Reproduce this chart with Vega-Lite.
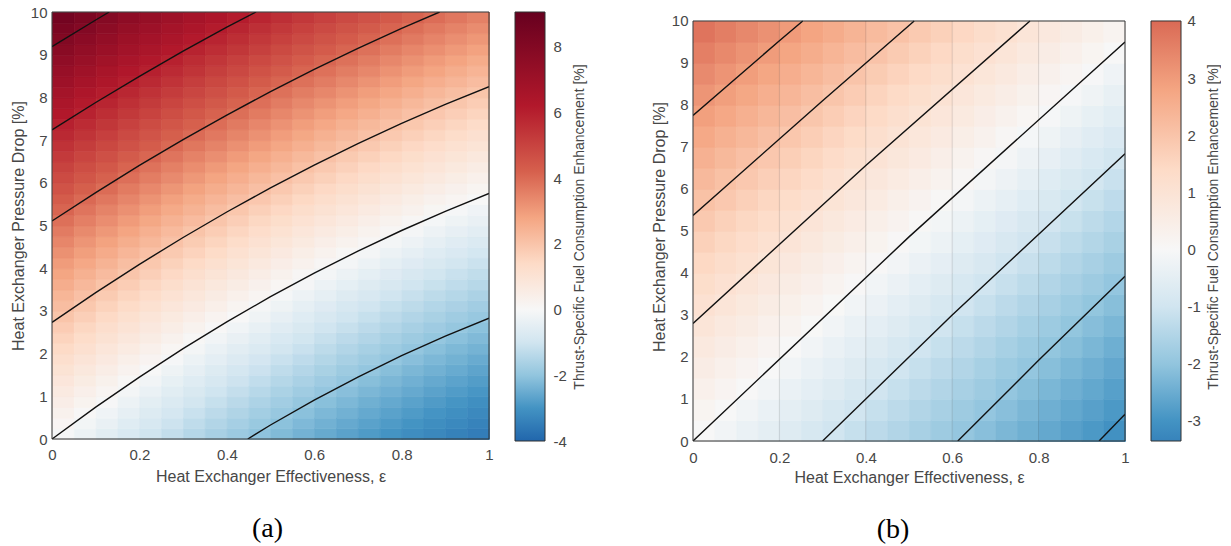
{
"$schema": "https://vega.github.io/schema/vega-lite/v6.json",
"background": "white",
"padding": {"left": 10, "top": 5, "right": 0, "bottom": 0},
"bounds": "flush",
"spacing": 26,
"config": {
 "view": {"stroke": null},
 "font": "Liberation Sans",
 "axis": {"labelFont": "Liberation Sans", "titleFont": "Liberation Sans", "labelFontSize": 15, "titleFontSize": 16, "labelColor": "#474747", "titleColor": "#474747", "titleFontWeight": "normal", "ticks": false, "tickSize": 0, "domain": false, "gridColor": "#262626", "gridOpacity": 0.15, "labelFlush": false, "labelOverlap": false, "zindex": 1, "titleLimit": 800}
},
"resolve": {"scale": {"x": "independent", "y": "independent", "color": "independent", "stroke": "independent"}},
"datasets": {
"a": [
{"e":0,"p":0,"v":-0.05},{"e":0,"p":0.25,"v":0.13},{"e":0,"p":0.5,"v":0.30},{"e":0,"p":0.75,"v":0.48},{"e":0,"p":1,"v":0.65},{"e":0,"p":1.25,"v":0.83},{"e":0,"p":1.5,"v":1.02},{"e":0,"p":1.75,"v":1.20},{"e":0,"p":2,"v":1.39},{"e":0,"p":2.25,"v":1.59},{"e":0,"p":2.5,"v":1.78},{"e":0,"p":2.75,"v":1.98},{"e":0,"p":3,"v":2.17},{"e":0,"p":3.25,"v":2.37},{"e":0,"p":3.5,"v":2.58},{"e":0,"p":3.75,"v":2.78},{"e":0,"p":4,"v":2.99},{"e":0,"p":4.25,"v":3.21},{"e":0,"p":4.5,"v":3.43},{"e":0,"p":4.75,"v":3.65},{"e":0,"p":5,"v":3.87},{"e":0,"p":5.25,"v":4.09},{"e":0,"p":5.5,"v":4.32},{"e":0,"p":5.75,"v":4.55},{"e":0,"p":6,"v":4.77},{"e":0,"p":6.25,"v":5.01},{"e":0,"p":6.5,"v":5.25},{"e":0,"p":6.75,"v":5.49},{"e":0,"p":7,"v":5.73},{"e":0,"p":7.25,"v":5.97},{"e":0,"p":7.5,"v":6.22},{"e":0,"p":7.75,"v":6.48},{"e":0,"p":8,"v":6.72},{"e":0,"p":8.25,"v":6.98},{"e":0,"p":8.5,"v":7.24},{"e":0,"p":8.75,"v":7.50},{"e":0,"p":9,"v":7.77},{"e":0,"p":9.25,"v":8.03},{"e":0,"p":9.5,"v":8.29},{"e":0,"p":9.75,"v":8.57},
{"e":0.05,"p":0,"v":-0.29},{"e":0.05,"p":0.25,"v":-0.13},{"e":0.05,"p":0.5,"v":0.04},{"e":0.05,"p":0.75,"v":0.22},{"e":0.05,"p":1,"v":0.39},{"e":0.05,"p":1.25,"v":0.57},{"e":0.05,"p":1.5,"v":0.75},{"e":0.05,"p":1.75,"v":0.93},{"e":0.05,"p":2,"v":1.13},{"e":0.05,"p":2.25,"v":1.32},{"e":0.05,"p":2.5,"v":1.50},{"e":0.05,"p":2.75,"v":1.70},{"e":0.05,"p":3,"v":1.90},{"e":0.05,"p":3.25,"v":2.10},{"e":0.05,"p":3.5,"v":2.30},{"e":0.05,"p":3.75,"v":2.50},{"e":0.05,"p":4,"v":2.72},{"e":0.05,"p":4.25,"v":2.93},{"e":0.05,"p":4.5,"v":3.13},{"e":0.05,"p":4.75,"v":3.35},{"e":0.05,"p":5,"v":3.57},{"e":0.05,"p":5.25,"v":3.79},{"e":0.05,"p":5.5,"v":4.02},{"e":0.05,"p":5.75,"v":4.24},{"e":0.05,"p":6,"v":4.47},{"e":0.05,"p":6.25,"v":4.71},{"e":0.05,"p":6.5,"v":4.94},{"e":0.05,"p":6.75,"v":5.18},{"e":0.05,"p":7,"v":5.42},{"e":0.05,"p":7.25,"v":5.66},{"e":0.05,"p":7.5,"v":5.91},{"e":0.05,"p":7.75,"v":6.15},{"e":0.05,"p":8,"v":6.40},{"e":0.05,"p":8.25,"v":6.66},{"e":0.05,"p":8.5,"v":6.91},{"e":0.05,"p":8.75,"v":7.17},{"e":0.05,"p":9,"v":7.43},{"e":0.05,"p":9.25,"v":7.69},{"e":0.05,"p":9.5,"v":7.97},{"e":0.05,"p":9.75,"v":8.24},
{"e":0.1,"p":0,"v":-0.54},{"e":0.1,"p":0.25,"v":-0.38},{"e":0.1,"p":0.5,"v":-0.21},{"e":0.1,"p":0.75,"v":-0.03},{"e":0.1,"p":1,"v":0.14},{"e":0.1,"p":1.25,"v":0.32},{"e":0.1,"p":1.5,"v":0.50},{"e":0.1,"p":1.75,"v":0.68},{"e":0.1,"p":2,"v":0.86},{"e":0.1,"p":2.25,"v":1.04},{"e":0.1,"p":2.5,"v":1.23},{"e":0.1,"p":2.75,"v":1.43},{"e":0.1,"p":3,"v":1.62},{"e":0.1,"p":3.25,"v":1.82},{"e":0.1,"p":3.5,"v":2.02},{"e":0.1,"p":3.75,"v":2.22},{"e":0.1,"p":4,"v":2.44},{"e":0.1,"p":4.25,"v":2.64},{"e":0.1,"p":4.5,"v":2.85},{"e":0.1,"p":4.75,"v":3.07},{"e":0.1,"p":5,"v":3.28},{"e":0.1,"p":5.25,"v":3.50},{"e":0.1,"p":5.5,"v":3.73},{"e":0.1,"p":5.75,"v":3.95},{"e":0.1,"p":6,"v":4.18},{"e":0.1,"p":6.25,"v":4.41},{"e":0.1,"p":6.5,"v":4.64},{"e":0.1,"p":6.75,"v":4.88},{"e":0.1,"p":7,"v":5.11},{"e":0.1,"p":7.25,"v":5.35},{"e":0.1,"p":7.5,"v":5.60},{"e":0.1,"p":7.75,"v":5.84},{"e":0.1,"p":8,"v":6.08},{"e":0.1,"p":8.25,"v":6.34},{"e":0.1,"p":8.5,"v":6.59},{"e":0.1,"p":8.75,"v":6.85},{"e":0.1,"p":9,"v":7.11},{"e":0.1,"p":9.25,"v":7.37},{"e":0.1,"p":9.5,"v":7.64},{"e":0.1,"p":9.75,"v":7.90},
{"e":0.15,"p":0,"v":-0.78},{"e":0.15,"p":0.25,"v":-0.62},{"e":0.15,"p":0.5,"v":-0.45},{"e":0.15,"p":0.75,"v":-0.28},{"e":0.15,"p":1,"v":-0.11},{"e":0.15,"p":1.25,"v":0.07},{"e":0.15,"p":1.5,"v":0.24},{"e":0.15,"p":1.75,"v":0.42},{"e":0.15,"p":2,"v":0.61},{"e":0.15,"p":2.25,"v":0.79},{"e":0.15,"p":2.5,"v":0.98},{"e":0.15,"p":2.75,"v":1.17},{"e":0.15,"p":3,"v":1.36},{"e":0.15,"p":3.25,"v":1.56},{"e":0.15,"p":3.5,"v":1.76},{"e":0.15,"p":3.75,"v":1.96},{"e":0.15,"p":4,"v":2.16},{"e":0.15,"p":4.25,"v":2.36},{"e":0.15,"p":4.5,"v":2.57},{"e":0.15,"p":4.75,"v":2.79},{"e":0.15,"p":5,"v":3.00},{"e":0.15,"p":5.25,"v":3.22},{"e":0.15,"p":5.5,"v":3.44},{"e":0.15,"p":5.75,"v":3.66},{"e":0.15,"p":6,"v":3.89},{"e":0.15,"p":6.25,"v":4.11},{"e":0.15,"p":6.5,"v":4.34},{"e":0.15,"p":6.75,"v":4.58},{"e":0.15,"p":7,"v":4.81},{"e":0.15,"p":7.25,"v":5.05},{"e":0.15,"p":7.5,"v":5.29},{"e":0.15,"p":7.75,"v":5.53},{"e":0.15,"p":8,"v":5.79},{"e":0.15,"p":8.25,"v":6.04},{"e":0.15,"p":8.5,"v":6.28},{"e":0.15,"p":8.75,"v":6.54},{"e":0.15,"p":9,"v":6.79},{"e":0.15,"p":9.25,"v":7.05},{"e":0.15,"p":9.5,"v":7.32},{"e":0.15,"p":9.75,"v":7.58},
{"e":0.2,"p":0,"v":-1.01},{"e":0.2,"p":0.25,"v":-0.85},{"e":0.2,"p":0.5,"v":-0.68},{"e":0.2,"p":0.75,"v":-0.52},{"e":0.2,"p":1,"v":-0.35},{"e":0.2,"p":1.25,"v":-0.17},{"e":0.2,"p":1.5,"v":0.00},{"e":0.2,"p":1.75,"v":0.18},{"e":0.2,"p":2,"v":0.36},{"e":0.2,"p":2.25,"v":0.54},{"e":0.2,"p":2.5,"v":0.73},{"e":0.2,"p":2.75,"v":0.91},{"e":0.2,"p":3,"v":1.10},{"e":0.2,"p":3.25,"v":1.30},{"e":0.2,"p":3.5,"v":1.50},{"e":0.2,"p":3.75,"v":1.70},{"e":0.2,"p":4,"v":1.90},{"e":0.2,"p":4.25,"v":2.10},{"e":0.2,"p":4.5,"v":2.31},{"e":0.2,"p":4.75,"v":2.52},{"e":0.2,"p":5,"v":2.73},{"e":0.2,"p":5.25,"v":2.95},{"e":0.2,"p":5.5,"v":3.16},{"e":0.2,"p":5.75,"v":3.38},{"e":0.2,"p":6,"v":3.61},{"e":0.2,"p":6.25,"v":3.83},{"e":0.2,"p":6.5,"v":4.07},{"e":0.2,"p":6.75,"v":4.30},{"e":0.2,"p":7,"v":4.52},{"e":0.2,"p":7.25,"v":4.76},{"e":0.2,"p":7.5,"v":5.00},{"e":0.2,"p":7.75,"v":5.24},{"e":0.2,"p":8,"v":5.49},{"e":0.2,"p":8.25,"v":5.73},{"e":0.2,"p":8.5,"v":5.98},{"e":0.2,"p":8.75,"v":6.24},{"e":0.2,"p":9,"v":6.49},{"e":0.2,"p":9.25,"v":6.75},{"e":0.2,"p":9.5,"v":7.01},{"e":0.2,"p":9.75,"v":7.27},
{"e":0.25,"p":0,"v":-1.23},{"e":0.25,"p":0.25,"v":-1.07},{"e":0.25,"p":0.5,"v":-0.90},{"e":0.25,"p":0.75,"v":-0.74},{"e":0.25,"p":1,"v":-0.58},{"e":0.25,"p":1.25,"v":-0.41},{"e":0.25,"p":1.5,"v":-0.23},{"e":0.25,"p":1.75,"v":-0.05},{"e":0.25,"p":2,"v":0.12},{"e":0.25,"p":2.25,"v":0.30},{"e":0.25,"p":2.5,"v":0.49},{"e":0.25,"p":2.75,"v":0.67},{"e":0.25,"p":3,"v":0.86},{"e":0.25,"p":3.25,"v":1.06},{"e":0.25,"p":3.5,"v":1.24},{"e":0.25,"p":3.75,"v":1.44},{"e":0.25,"p":4,"v":1.64},{"e":0.25,"p":4.25,"v":1.84},{"e":0.25,"p":4.5,"v":2.05},{"e":0.25,"p":4.75,"v":2.25},{"e":0.25,"p":5,"v":2.46},{"e":0.25,"p":5.25,"v":2.68},{"e":0.25,"p":5.5,"v":2.89},{"e":0.25,"p":5.75,"v":3.11},{"e":0.25,"p":6,"v":3.34},{"e":0.25,"p":6.25,"v":3.56},{"e":0.25,"p":6.5,"v":3.79},{"e":0.25,"p":6.75,"v":4.01},{"e":0.25,"p":7,"v":4.24},{"e":0.25,"p":7.25,"v":4.48},{"e":0.25,"p":7.5,"v":4.71},{"e":0.25,"p":7.75,"v":4.95},{"e":0.25,"p":8,"v":5.20},{"e":0.25,"p":8.25,"v":5.44},{"e":0.25,"p":8.5,"v":5.69},{"e":0.25,"p":8.75,"v":5.94},{"e":0.25,"p":9,"v":6.19},{"e":0.25,"p":9.25,"v":6.45},{"e":0.25,"p":9.5,"v":6.70},{"e":0.25,"p":9.75,"v":6.96},
{"e":0.3,"p":0,"v":-1.44},{"e":0.3,"p":0.25,"v":-1.28},{"e":0.3,"p":0.5,"v":-1.12},{"e":0.3,"p":0.75,"v":-0.96},{"e":0.3,"p":1,"v":-0.79},{"e":0.3,"p":1.25,"v":-0.63},{"e":0.3,"p":1.5,"v":-0.46},{"e":0.3,"p":1.75,"v":-0.28},{"e":0.3,"p":2,"v":-0.11},{"e":0.3,"p":2.25,"v":0.07},{"e":0.3,"p":2.5,"v":0.25},{"e":0.3,"p":2.75,"v":0.43},{"e":0.3,"p":3,"v":0.63},{"e":0.3,"p":3.25,"v":0.82},{"e":0.3,"p":3.5,"v":1.00},{"e":0.3,"p":3.75,"v":1.20},{"e":0.3,"p":4,"v":1.40},{"e":0.3,"p":4.25,"v":1.60},{"e":0.3,"p":4.5,"v":1.80},{"e":0.3,"p":4.75,"v":2.00},{"e":0.3,"p":5,"v":2.22},{"e":0.3,"p":5.25,"v":2.43},{"e":0.3,"p":5.5,"v":2.63},{"e":0.3,"p":5.75,"v":2.85},{"e":0.3,"p":6,"v":3.07},{"e":0.3,"p":6.25,"v":3.29},{"e":0.3,"p":6.5,"v":3.52},{"e":0.3,"p":6.75,"v":3.74},{"e":0.3,"p":7,"v":3.97},{"e":0.3,"p":7.25,"v":4.21},{"e":0.3,"p":7.5,"v":4.43},{"e":0.3,"p":7.75,"v":4.67},{"e":0.3,"p":8,"v":4.91},{"e":0.3,"p":8.25,"v":5.15},{"e":0.3,"p":8.5,"v":5.41},{"e":0.3,"p":8.75,"v":5.65},{"e":0.3,"p":9,"v":5.90},{"e":0.3,"p":9.25,"v":6.16},{"e":0.3,"p":9.5,"v":6.41},{"e":0.3,"p":9.75,"v":6.67},
{"e":0.35,"p":0,"v":-1.65},{"e":0.35,"p":0.25,"v":-1.49},{"e":0.35,"p":0.5,"v":-1.33},{"e":0.35,"p":0.75,"v":-1.17},{"e":0.35,"p":1,"v":-1.01},{"e":0.35,"p":1.25,"v":-0.85},{"e":0.35,"p":1.5,"v":-0.68},{"e":0.35,"p":1.75,"v":-0.50},{"e":0.35,"p":2,"v":-0.33},{"e":0.35,"p":2.25,"v":-0.15},{"e":0.35,"p":2.5,"v":0.03},{"e":0.35,"p":2.75,"v":0.21},{"e":0.35,"p":3,"v":0.40},{"e":0.35,"p":3.25,"v":0.58},{"e":0.35,"p":3.5,"v":0.77},{"e":0.35,"p":3.75,"v":0.97},{"e":0.35,"p":4,"v":1.16},{"e":0.35,"p":4.25,"v":1.36},{"e":0.35,"p":4.5,"v":1.56},{"e":0.35,"p":4.75,"v":1.76},{"e":0.35,"p":5,"v":1.97},{"e":0.35,"p":5.25,"v":2.17},{"e":0.35,"p":5.5,"v":2.38},{"e":0.35,"p":5.75,"v":2.60},{"e":0.35,"p":6,"v":2.81},{"e":0.35,"p":6.25,"v":3.03},{"e":0.35,"p":6.5,"v":3.26},{"e":0.35,"p":6.75,"v":3.48},{"e":0.35,"p":7,"v":3.71},{"e":0.35,"p":7.25,"v":3.94},{"e":0.35,"p":7.5,"v":4.16},{"e":0.35,"p":7.75,"v":4.40},{"e":0.35,"p":8,"v":4.64},{"e":0.35,"p":8.25,"v":4.88},{"e":0.35,"p":8.5,"v":5.13},{"e":0.35,"p":8.75,"v":5.37},{"e":0.35,"p":9,"v":5.61},{"e":0.35,"p":9.25,"v":5.87},{"e":0.35,"p":9.5,"v":6.12},{"e":0.35,"p":9.75,"v":6.38},
{"e":0.4,"p":0,"v":-1.84},{"e":0.4,"p":0.25,"v":-1.68},{"e":0.4,"p":0.5,"v":-1.53},{"e":0.4,"p":0.75,"v":-1.37},{"e":0.4,"p":1,"v":-1.21},{"e":0.4,"p":1.25,"v":-1.05},{"e":0.4,"p":1.5,"v":-0.89},{"e":0.4,"p":1.75,"v":-0.72},{"e":0.4,"p":2,"v":-0.55},{"e":0.4,"p":2.25,"v":-0.37},{"e":0.4,"p":2.5,"v":-0.19},{"e":0.4,"p":2.75,"v":-0.01},{"e":0.4,"p":3,"v":0.17},{"e":0.4,"p":3.25,"v":0.35},{"e":0.4,"p":3.5,"v":0.55},{"e":0.4,"p":3.75,"v":0.74},{"e":0.4,"p":4,"v":0.92},{"e":0.4,"p":4.25,"v":1.12},{"e":0.4,"p":4.5,"v":1.32},{"e":0.4,"p":4.75,"v":1.52},{"e":0.4,"p":5,"v":1.73},{"e":0.4,"p":5.25,"v":1.93},{"e":0.4,"p":5.5,"v":2.14},{"e":0.4,"p":5.75,"v":2.36},{"e":0.4,"p":6,"v":2.56},{"e":0.4,"p":6.25,"v":2.78},{"e":0.4,"p":6.5,"v":3.00},{"e":0.4,"p":6.75,"v":3.22},{"e":0.4,"p":7,"v":3.45},{"e":0.4,"p":7.25,"v":3.67},{"e":0.4,"p":7.5,"v":3.90},{"e":0.4,"p":7.75,"v":4.14},{"e":0.4,"p":8,"v":4.37},{"e":0.4,"p":8.25,"v":4.61},{"e":0.4,"p":8.5,"v":4.86},{"e":0.4,"p":8.75,"v":5.10},{"e":0.4,"p":9,"v":5.35},{"e":0.4,"p":9.25,"v":5.60},{"e":0.4,"p":9.5,"v":5.84},{"e":0.4,"p":9.75,"v":6.10},
{"e":0.45,"p":0,"v":-2.04},{"e":0.45,"p":0.25,"v":-1.89},{"e":0.45,"p":0.5,"v":-1.73},{"e":0.45,"p":0.75,"v":-1.57},{"e":0.45,"p":1,"v":-1.41},{"e":0.45,"p":1.25,"v":-1.25},{"e":0.45,"p":1.5,"v":-1.08},{"e":0.45,"p":1.75,"v":-0.92},{"e":0.45,"p":2,"v":-0.75},{"e":0.45,"p":2.25,"v":-0.57},{"e":0.45,"p":2.5,"v":-0.40},{"e":0.45,"p":2.75,"v":-0.22},{"e":0.45,"p":3,"v":-0.04},{"e":0.45,"p":3.25,"v":0.14},{"e":0.45,"p":3.5,"v":0.33},{"e":0.45,"p":3.75,"v":0.51},{"e":0.45,"p":4,"v":0.70},{"e":0.45,"p":4.25,"v":0.90},{"e":0.45,"p":4.5,"v":1.09},{"e":0.45,"p":4.75,"v":1.29},{"e":0.45,"p":5,"v":1.49},{"e":0.45,"p":5.25,"v":1.69},{"e":0.45,"p":5.5,"v":1.91},{"e":0.45,"p":5.75,"v":2.12},{"e":0.45,"p":6,"v":2.32},{"e":0.45,"p":6.25,"v":2.54},{"e":0.45,"p":6.5,"v":2.76},{"e":0.45,"p":6.75,"v":2.98},{"e":0.45,"p":7,"v":3.20},{"e":0.45,"p":7.25,"v":3.42},{"e":0.45,"p":7.5,"v":3.66},{"e":0.45,"p":7.75,"v":3.89},{"e":0.45,"p":8,"v":4.11},{"e":0.45,"p":8.25,"v":4.35},{"e":0.45,"p":8.5,"v":4.59},{"e":0.45,"p":8.75,"v":4.83},{"e":0.45,"p":9,"v":5.08},{"e":0.45,"p":9.25,"v":5.32},{"e":0.45,"p":9.5,"v":5.57},{"e":0.45,"p":9.75,"v":5.83},
{"e":0.5,"p":0,"v":-2.21},{"e":0.5,"p":0.25,"v":-2.07},{"e":0.5,"p":0.5,"v":-1.91},{"e":0.5,"p":0.75,"v":-1.75},{"e":0.5,"p":1,"v":-1.60},{"e":0.5,"p":1.25,"v":-1.44},{"e":0.5,"p":1.5,"v":-1.28},{"e":0.5,"p":1.75,"v":-1.12},{"e":0.5,"p":2,"v":-0.95},{"e":0.5,"p":2.25,"v":-0.78},{"e":0.5,"p":2.5,"v":-0.61},{"e":0.5,"p":2.75,"v":-0.43},{"e":0.5,"p":3,"v":-0.25},{"e":0.5,"p":3.25,"v":-0.07},{"e":0.5,"p":3.5,"v":0.12},{"e":0.5,"p":3.75,"v":0.30},{"e":0.5,"p":4,"v":0.48},{"e":0.5,"p":4.25,"v":0.68},{"e":0.5,"p":4.5,"v":0.87},{"e":0.5,"p":4.75,"v":1.07},{"e":0.5,"p":5,"v":1.27},{"e":0.5,"p":5.25,"v":1.47},{"e":0.5,"p":5.5,"v":1.68},{"e":0.5,"p":5.75,"v":1.88},{"e":0.5,"p":6,"v":2.09},{"e":0.5,"p":6.25,"v":2.31},{"e":0.5,"p":6.5,"v":2.52},{"e":0.5,"p":6.75,"v":2.74},{"e":0.5,"p":7,"v":2.96},{"e":0.5,"p":7.25,"v":3.18},{"e":0.5,"p":7.5,"v":3.41},{"e":0.5,"p":7.75,"v":3.63},{"e":0.5,"p":8,"v":3.86},{"e":0.5,"p":8.25,"v":4.10},{"e":0.5,"p":8.5,"v":4.34},{"e":0.5,"p":8.75,"v":4.58},{"e":0.5,"p":9,"v":4.82},{"e":0.5,"p":9.25,"v":5.06},{"e":0.5,"p":9.5,"v":5.32},{"e":0.5,"p":9.75,"v":5.57},
{"e":0.55,"p":0,"v":-2.38},{"e":0.55,"p":0.25,"v":-2.24},{"e":0.55,"p":0.5,"v":-2.09},{"e":0.55,"p":0.75,"v":-1.93},{"e":0.55,"p":1,"v":-1.78},{"e":0.55,"p":1.25,"v":-1.62},{"e":0.55,"p":1.5,"v":-1.46},{"e":0.55,"p":1.75,"v":-1.30},{"e":0.55,"p":2,"v":-1.13},{"e":0.55,"p":2.25,"v":-0.97},{"e":0.55,"p":2.5,"v":-0.80},{"e":0.55,"p":2.75,"v":-0.62},{"e":0.55,"p":3,"v":-0.45},{"e":0.55,"p":3.25,"v":-0.27},{"e":0.55,"p":3.5,"v":-0.09},{"e":0.55,"p":3.75,"v":0.09},{"e":0.55,"p":4,"v":0.28},{"e":0.55,"p":4.25,"v":0.47},{"e":0.55,"p":4.5,"v":0.66},{"e":0.55,"p":4.75,"v":0.86},{"e":0.55,"p":5,"v":1.05},{"e":0.55,"p":5.25,"v":1.25},{"e":0.55,"p":5.5,"v":1.46},{"e":0.55,"p":5.75,"v":1.66},{"e":0.55,"p":6,"v":1.87},{"e":0.55,"p":6.25,"v":2.08},{"e":0.55,"p":6.5,"v":2.29},{"e":0.55,"p":6.75,"v":2.51},{"e":0.55,"p":7,"v":2.73},{"e":0.55,"p":7.25,"v":2.95},{"e":0.55,"p":7.5,"v":3.17},{"e":0.55,"p":7.75,"v":3.39},{"e":0.55,"p":8,"v":3.62},{"e":0.55,"p":8.25,"v":3.86},{"e":0.55,"p":8.5,"v":4.09},{"e":0.55,"p":8.75,"v":4.33},{"e":0.55,"p":9,"v":4.57},{"e":0.55,"p":9.25,"v":4.81},{"e":0.55,"p":9.5,"v":5.06},{"e":0.55,"p":9.75,"v":5.30},
{"e":0.6,"p":0,"v":-2.55},{"e":0.6,"p":0.25,"v":-2.41},{"e":0.6,"p":0.5,"v":-2.26},{"e":0.6,"p":0.75,"v":-2.11},{"e":0.6,"p":1,"v":-1.96},{"e":0.6,"p":1.25,"v":-1.80},{"e":0.6,"p":1.5,"v":-1.64},{"e":0.6,"p":1.75,"v":-1.48},{"e":0.6,"p":2,"v":-1.32},{"e":0.6,"p":2.25,"v":-1.16},{"e":0.6,"p":2.5,"v":-0.99},{"e":0.6,"p":2.75,"v":-0.81},{"e":0.6,"p":3,"v":-0.64},{"e":0.6,"p":3.25,"v":-0.46},{"e":0.6,"p":3.5,"v":-0.28},{"e":0.6,"p":3.75,"v":-0.10},{"e":0.6,"p":4,"v":0.08},{"e":0.6,"p":4.25,"v":0.26},{"e":0.6,"p":4.5,"v":0.45},{"e":0.6,"p":4.75,"v":0.65},{"e":0.6,"p":5,"v":0.84},{"e":0.6,"p":5.25,"v":1.04},{"e":0.6,"p":5.5,"v":1.24},{"e":0.6,"p":5.75,"v":1.44},{"e":0.6,"p":6,"v":1.66},{"e":0.6,"p":6.25,"v":1.86},{"e":0.6,"p":6.5,"v":2.07},{"e":0.6,"p":6.75,"v":2.29},{"e":0.6,"p":7,"v":2.50},{"e":0.6,"p":7.25,"v":2.72},{"e":0.6,"p":7.5,"v":2.94},{"e":0.6,"p":7.75,"v":3.16},{"e":0.6,"p":8,"v":3.40},{"e":0.6,"p":8.25,"v":3.63},{"e":0.6,"p":8.5,"v":3.85},{"e":0.6,"p":8.75,"v":4.09},{"e":0.6,"p":9,"v":4.33},{"e":0.6,"p":9.25,"v":4.57},{"e":0.6,"p":9.5,"v":4.81},{"e":0.6,"p":9.75,"v":5.05},
{"e":0.65,"p":0,"v":-2.70},{"e":0.65,"p":0.25,"v":-2.56},{"e":0.65,"p":0.5,"v":-2.41},{"e":0.65,"p":0.75,"v":-2.27},{"e":0.65,"p":1,"v":-2.12},{"e":0.65,"p":1.25,"v":-1.96},{"e":0.65,"p":1.5,"v":-1.81},{"e":0.65,"p":1.75,"v":-1.65},{"e":0.65,"p":2,"v":-1.49},{"e":0.65,"p":2.25,"v":-1.33},{"e":0.65,"p":2.5,"v":-1.16},{"e":0.65,"p":2.75,"v":-1.00},{"e":0.65,"p":3,"v":-0.83},{"e":0.65,"p":3.25,"v":-0.65},{"e":0.65,"p":3.5,"v":-0.47},{"e":0.65,"p":3.75,"v":-0.29},{"e":0.65,"p":4,"v":-0.11},{"e":0.65,"p":4.25,"v":0.07},{"e":0.65,"p":4.5,"v":0.27},{"e":0.65,"p":4.75,"v":0.46},{"e":0.65,"p":5,"v":0.64},{"e":0.65,"p":5.25,"v":0.84},{"e":0.65,"p":5.5,"v":1.04},{"e":0.65,"p":5.75,"v":1.24},{"e":0.65,"p":6,"v":1.45},{"e":0.65,"p":6.25,"v":1.65},{"e":0.65,"p":6.5,"v":1.85},{"e":0.65,"p":6.75,"v":2.07},{"e":0.65,"p":7,"v":2.28},{"e":0.65,"p":7.25,"v":2.50},{"e":0.65,"p":7.5,"v":2.72},{"e":0.65,"p":7.75,"v":2.94},{"e":0.65,"p":8,"v":3.17},{"e":0.65,"p":8.25,"v":3.39},{"e":0.65,"p":8.5,"v":3.62},{"e":0.65,"p":8.75,"v":3.86},{"e":0.65,"p":9,"v":4.09},{"e":0.65,"p":9.25,"v":4.33},{"e":0.65,"p":9.5,"v":4.57},{"e":0.65,"p":9.75,"v":4.81},
{"e":0.7,"p":0,"v":-2.85},{"e":0.7,"p":0.25,"v":-2.71},{"e":0.7,"p":0.5,"v":-2.57},{"e":0.7,"p":0.75,"v":-2.43},{"e":0.7,"p":1,"v":-2.28},{"e":0.7,"p":1.25,"v":-2.13},{"e":0.7,"p":1.5,"v":-1.97},{"e":0.7,"p":1.75,"v":-1.81},{"e":0.7,"p":2,"v":-1.66},{"e":0.7,"p":2.25,"v":-1.50},{"e":0.7,"p":2.5,"v":-1.33},{"e":0.7,"p":2.75,"v":-1.17},{"e":0.7,"p":3,"v":-1.00},{"e":0.7,"p":3.25,"v":-0.82},{"e":0.7,"p":3.5,"v":-0.65},{"e":0.7,"p":3.75,"v":-0.47},{"e":0.7,"p":4,"v":-0.29},{"e":0.7,"p":4.25,"v":-0.11},{"e":0.7,"p":4.5,"v":0.08},{"e":0.7,"p":4.75,"v":0.26},{"e":0.7,"p":5,"v":0.45},{"e":0.7,"p":5.25,"v":0.65},{"e":0.7,"p":5.5,"v":0.84},{"e":0.7,"p":5.75,"v":1.04},{"e":0.7,"p":6,"v":1.24},{"e":0.7,"p":6.25,"v":1.44},{"e":0.7,"p":6.5,"v":1.66},{"e":0.7,"p":6.75,"v":1.87},{"e":0.7,"p":7,"v":2.07},{"e":0.7,"p":7.25,"v":2.29},{"e":0.7,"p":7.5,"v":2.51},{"e":0.7,"p":7.75,"v":2.73},{"e":0.7,"p":8,"v":2.95},{"e":0.7,"p":8.25,"v":3.17},{"e":0.7,"p":8.5,"v":3.41},{"e":0.7,"p":8.75,"v":3.64},{"e":0.7,"p":9,"v":3.86},{"e":0.7,"p":9.25,"v":4.10},{"e":0.7,"p":9.5,"v":4.34},{"e":0.7,"p":9.75,"v":4.58},
{"e":0.75,"p":0,"v":-2.99},{"e":0.75,"p":0.25,"v":-2.85},{"e":0.75,"p":0.5,"v":-2.71},{"e":0.75,"p":0.75,"v":-2.57},{"e":0.75,"p":1,"v":-2.42},{"e":0.75,"p":1.25,"v":-2.28},{"e":0.75,"p":1.5,"v":-2.13},{"e":0.75,"p":1.75,"v":-1.97},{"e":0.75,"p":2,"v":-1.82},{"e":0.75,"p":2.25,"v":-1.66},{"e":0.75,"p":2.5,"v":-1.49},{"e":0.75,"p":2.75,"v":-1.33},{"e":0.75,"p":3,"v":-1.17},{"e":0.75,"p":3.25,"v":-1.00},{"e":0.75,"p":3.5,"v":-0.82},{"e":0.75,"p":3.75,"v":-0.64},{"e":0.75,"p":4,"v":-0.47},{"e":0.75,"p":4.25,"v":-0.29},{"e":0.75,"p":4.5,"v":-0.10},{"e":0.75,"p":4.75,"v":0.08},{"e":0.75,"p":5,"v":0.27},{"e":0.75,"p":5.25,"v":0.47},{"e":0.75,"p":5.5,"v":0.65},{"e":0.75,"p":5.75,"v":0.85},{"e":0.75,"p":6,"v":1.05},{"e":0.75,"p":6.25,"v":1.25},{"e":0.75,"p":6.5,"v":1.46},{"e":0.75,"p":6.75,"v":1.66},{"e":0.75,"p":7,"v":1.87},{"e":0.75,"p":7.25,"v":2.09},{"e":0.75,"p":7.5,"v":2.30},{"e":0.75,"p":7.75,"v":2.52},{"e":0.75,"p":8,"v":2.74},{"e":0.75,"p":8.25,"v":2.96},{"e":0.75,"p":8.5,"v":3.19},{"e":0.75,"p":8.75,"v":3.41},{"e":0.75,"p":9,"v":3.64},{"e":0.75,"p":9.25,"v":3.88},{"e":0.75,"p":9.5,"v":4.12},{"e":0.75,"p":9.75,"v":4.36},
{"e":0.8,"p":0,"v":-3.13},{"e":0.8,"p":0.25,"v":-2.99},{"e":0.8,"p":0.5,"v":-2.85},{"e":0.8,"p":0.75,"v":-2.71},{"e":0.8,"p":1,"v":-2.56},{"e":0.8,"p":1.25,"v":-2.42},{"e":0.8,"p":1.5,"v":-2.28},{"e":0.8,"p":1.75,"v":-2.12},{"e":0.8,"p":2,"v":-1.97},{"e":0.8,"p":2.25,"v":-1.81},{"e":0.8,"p":2.5,"v":-1.65},{"e":0.8,"p":2.75,"v":-1.49},{"e":0.8,"p":3,"v":-1.32},{"e":0.8,"p":3.25,"v":-1.16},{"e":0.8,"p":3.5,"v":-0.99},{"e":0.8,"p":3.75,"v":-0.81},{"e":0.8,"p":4,"v":-0.64},{"e":0.8,"p":4.25,"v":-0.46},{"e":0.8,"p":4.5,"v":-0.27},{"e":0.8,"p":4.75,"v":-0.09},{"e":0.8,"p":5,"v":0.10},{"e":0.8,"p":5.25,"v":0.29},{"e":0.8,"p":5.5,"v":0.47},{"e":0.8,"p":5.75,"v":0.67},{"e":0.8,"p":6,"v":0.87},{"e":0.8,"p":6.25,"v":1.07},{"e":0.8,"p":6.5,"v":1.27},{"e":0.8,"p":6.75,"v":1.47},{"e":0.8,"p":7,"v":1.69},{"e":0.8,"p":7.25,"v":1.90},{"e":0.8,"p":7.5,"v":2.10},{"e":0.8,"p":7.75,"v":2.32},{"e":0.8,"p":8,"v":2.54},{"e":0.8,"p":8.25,"v":2.76},{"e":0.8,"p":8.5,"v":2.99},{"e":0.8,"p":8.75,"v":3.21},{"e":0.8,"p":9,"v":3.43},{"e":0.8,"p":9.25,"v":3.67},{"e":0.8,"p":9.5,"v":3.90},{"e":0.8,"p":9.75,"v":4.14},
{"e":0.85,"p":0,"v":-3.25},{"e":0.85,"p":0.25,"v":-3.11},{"e":0.85,"p":0.5,"v":-2.98},{"e":0.85,"p":0.75,"v":-2.84},{"e":0.85,"p":1,"v":-2.70},{"e":0.85,"p":1.25,"v":-2.56},{"e":0.85,"p":1.5,"v":-2.41},{"e":0.85,"p":1.75,"v":-2.26},{"e":0.85,"p":2,"v":-2.11},{"e":0.85,"p":2.25,"v":-1.95},{"e":0.85,"p":2.5,"v":-1.80},{"e":0.85,"p":2.75,"v":-1.64},{"e":0.85,"p":3,"v":-1.47},{"e":0.85,"p":3.25,"v":-1.31},{"e":0.85,"p":3.5,"v":-1.14},{"e":0.85,"p":3.75,"v":-0.97},{"e":0.85,"p":4,"v":-0.80},{"e":0.85,"p":4.25,"v":-0.62},{"e":0.85,"p":4.5,"v":-0.44},{"e":0.85,"p":4.75,"v":-0.26},{"e":0.85,"p":5,"v":-0.07},{"e":0.85,"p":5.25,"v":0.11},{"e":0.85,"p":5.5,"v":0.30},{"e":0.85,"p":5.75,"v":0.50},{"e":0.85,"p":6,"v":0.69},{"e":0.85,"p":6.25,"v":0.89},{"e":0.85,"p":6.5,"v":1.09},{"e":0.85,"p":6.75,"v":1.29},{"e":0.85,"p":7,"v":1.50},{"e":0.85,"p":7.25,"v":1.70},{"e":0.85,"p":7.5,"v":1.91},{"e":0.85,"p":7.75,"v":2.13},{"e":0.85,"p":8,"v":2.34},{"e":0.85,"p":8.25,"v":2.56},{"e":0.85,"p":8.5,"v":2.79},{"e":0.85,"p":8.75,"v":3.01},{"e":0.85,"p":9,"v":3.24},{"e":0.85,"p":9.25,"v":3.47},{"e":0.85,"p":9.5,"v":3.69},{"e":0.85,"p":9.75,"v":3.93},
{"e":0.9,"p":0,"v":-3.37},{"e":0.9,"p":0.25,"v":-3.23},{"e":0.9,"p":0.5,"v":-3.10},{"e":0.9,"p":0.75,"v":-2.96},{"e":0.9,"p":1,"v":-2.82},{"e":0.9,"p":1.25,"v":-2.68},{"e":0.9,"p":1.5,"v":-2.53},{"e":0.9,"p":1.75,"v":-2.39},{"e":0.9,"p":2,"v":-2.25},{"e":0.9,"p":2.25,"v":-2.09},{"e":0.9,"p":2.5,"v":-1.93},{"e":0.9,"p":2.75,"v":-1.77},{"e":0.9,"p":3,"v":-1.61},{"e":0.9,"p":3.25,"v":-1.45},{"e":0.9,"p":3.5,"v":-1.28},{"e":0.9,"p":3.75,"v":-1.12},{"e":0.9,"p":4,"v":-0.95},{"e":0.9,"p":4.25,"v":-0.77},{"e":0.9,"p":4.5,"v":-0.60},{"e":0.9,"p":4.75,"v":-0.42},{"e":0.9,"p":5,"v":-0.23},{"e":0.9,"p":5.25,"v":-0.05},{"e":0.9,"p":5.5,"v":0.14},{"e":0.9,"p":5.75,"v":0.33},{"e":0.9,"p":6,"v":0.52},{"e":0.9,"p":6.25,"v":0.72},{"e":0.9,"p":6.5,"v":0.92},{"e":0.9,"p":6.75,"v":1.12},{"e":0.9,"p":7,"v":1.32},{"e":0.9,"p":7.25,"v":1.52},{"e":0.9,"p":7.5,"v":1.73},{"e":0.9,"p":7.75,"v":1.95},{"e":0.9,"p":8,"v":2.16},{"e":0.9,"p":8.25,"v":2.38},{"e":0.9,"p":8.5,"v":2.60},{"e":0.9,"p":8.75,"v":2.82},{"e":0.9,"p":9,"v":3.04},{"e":0.9,"p":9.25,"v":3.26},{"e":0.9,"p":9.5,"v":3.49},{"e":0.9,"p":9.75,"v":3.73},
{"e":0.95,"p":0,"v":-3.48},{"e":0.95,"p":0.25,"v":-3.35},{"e":0.95,"p":0.5,"v":-3.22},{"e":0.95,"p":0.75,"v":-3.08},{"e":0.95,"p":1,"v":-2.94},{"e":0.95,"p":1.25,"v":-2.80},{"e":0.95,"p":1.5,"v":-2.66},{"e":0.95,"p":1.75,"v":-2.52},{"e":0.95,"p":2,"v":-2.37},{"e":0.95,"p":2.25,"v":-2.22},{"e":0.95,"p":2.5,"v":-2.07},{"e":0.95,"p":2.75,"v":-1.91},{"e":0.95,"p":3,"v":-1.75},{"e":0.95,"p":3.25,"v":-1.59},{"e":0.95,"p":3.5,"v":-1.42},{"e":0.95,"p":3.75,"v":-1.26},{"e":0.95,"p":4,"v":-1.09},{"e":0.95,"p":4.25,"v":-0.91},{"e":0.95,"p":4.5,"v":-0.74},{"e":0.95,"p":4.75,"v":-0.56},{"e":0.95,"p":5,"v":-0.38},{"e":0.95,"p":5.25,"v":-0.20},{"e":0.95,"p":5.5,"v":-0.01},{"e":0.95,"p":5.75,"v":0.17},{"e":0.95,"p":6,"v":0.36},{"e":0.95,"p":6.25,"v":0.56},{"e":0.95,"p":6.5,"v":0.75},{"e":0.95,"p":6.75,"v":0.95},{"e":0.95,"p":7,"v":1.15},{"e":0.95,"p":7.25,"v":1.35},{"e":0.95,"p":7.5,"v":1.56},{"e":0.95,"p":7.75,"v":1.77},{"e":0.95,"p":8,"v":1.98},{"e":0.95,"p":8.25,"v":2.20},{"e":0.95,"p":8.5,"v":2.41},{"e":0.95,"p":8.75,"v":2.63},{"e":0.95,"p":9,"v":2.86},{"e":0.95,"p":9.25,"v":3.08},{"e":0.95,"p":9.5,"v":3.31},{"e":0.95,"p":9.75,"v":3.54}
],
"b": [
{"e":0,"p":0,"v":0.00},{"e":0,"p":0.5,"v":0.17},{"e":0,"p":1,"v":0.35},{"e":0,"p":1.5,"v":0.53},{"e":0,"p":2,"v":0.71},{"e":0,"p":2.5,"v":0.89},{"e":0,"p":3,"v":1.08},{"e":0,"p":3.5,"v":1.27},{"e":0,"p":4,"v":1.46},{"e":0,"p":4.5,"v":1.66},{"e":0,"p":5,"v":1.86},{"e":0,"p":5.5,"v":2.06},{"e":0,"p":6,"v":2.27},{"e":0,"p":6.5,"v":2.48},{"e":0,"p":7,"v":2.69},{"e":0,"p":7.5,"v":2.90},{"e":0,"p":8,"v":3.12},{"e":0,"p":8.5,"v":3.34},{"e":0,"p":9,"v":3.57},{"e":0,"p":9.5,"v":3.79},
{"e":0.05,"p":0,"v":-0.17},{"e":0.05,"p":0.5,"v":0.00},{"e":0.05,"p":1,"v":0.18},{"e":0.05,"p":1.5,"v":0.35},{"e":0.05,"p":2,"v":0.53},{"e":0.05,"p":2.5,"v":0.71},{"e":0.05,"p":3,"v":0.90},{"e":0.05,"p":3.5,"v":1.09},{"e":0.05,"p":4,"v":1.28},{"e":0.05,"p":4.5,"v":1.48},{"e":0.05,"p":5,"v":1.67},{"e":0.05,"p":5.5,"v":1.88},{"e":0.05,"p":6,"v":2.08},{"e":0.05,"p":6.5,"v":2.29},{"e":0.05,"p":7,"v":2.50},{"e":0.05,"p":7.5,"v":2.71},{"e":0.05,"p":8,"v":2.93},{"e":0.05,"p":8.5,"v":3.15},{"e":0.05,"p":9,"v":3.37},{"e":0.05,"p":9.5,"v":3.59},
{"e":0.1,"p":0,"v":-0.34},{"e":0.1,"p":0.5,"v":-0.17},{"e":0.1,"p":1,"v":0.00},{"e":0.1,"p":1.5,"v":0.18},{"e":0.1,"p":2,"v":0.36},{"e":0.1,"p":2.5,"v":0.54},{"e":0.1,"p":3,"v":0.72},{"e":0.1,"p":3.5,"v":0.91},{"e":0.1,"p":4,"v":1.10},{"e":0.1,"p":4.5,"v":1.29},{"e":0.1,"p":5,"v":1.49},{"e":0.1,"p":5.5,"v":1.69},{"e":0.1,"p":6,"v":1.89},{"e":0.1,"p":6.5,"v":2.10},{"e":0.1,"p":7,"v":2.31},{"e":0.1,"p":7.5,"v":2.52},{"e":0.1,"p":8,"v":2.73},{"e":0.1,"p":8.5,"v":2.95},{"e":0.1,"p":9,"v":3.17},{"e":0.1,"p":9.5,"v":3.39},
{"e":0.15,"p":0,"v":-0.51},{"e":0.15,"p":0.5,"v":-0.34},{"e":0.15,"p":1,"v":-0.17},{"e":0.15,"p":1.5,"v":0.01},{"e":0.15,"p":2,"v":0.18},{"e":0.15,"p":2.5,"v":0.36},{"e":0.15,"p":3,"v":0.55},{"e":0.15,"p":3.5,"v":0.73},{"e":0.15,"p":4,"v":0.92},{"e":0.15,"p":4.5,"v":1.11},{"e":0.15,"p":5,"v":1.31},{"e":0.15,"p":5.5,"v":1.50},{"e":0.15,"p":6,"v":1.71},{"e":0.15,"p":6.5,"v":1.91},{"e":0.15,"p":7,"v":2.12},{"e":0.15,"p":7.5,"v":2.33},{"e":0.15,"p":8,"v":2.54},{"e":0.15,"p":8.5,"v":2.76},{"e":0.15,"p":9,"v":2.98},{"e":0.15,"p":9.5,"v":3.20},
{"e":0.2,"p":0,"v":-0.67},{"e":0.2,"p":0.5,"v":-0.51},{"e":0.2,"p":1,"v":-0.34},{"e":0.2,"p":1.5,"v":-0.17},{"e":0.2,"p":2,"v":0.01},{"e":0.2,"p":2.5,"v":0.19},{"e":0.2,"p":3,"v":0.37},{"e":0.2,"p":3.5,"v":0.55},{"e":0.2,"p":4,"v":0.74},{"e":0.2,"p":4.5,"v":0.93},{"e":0.2,"p":5,"v":1.12},{"e":0.2,"p":5.5,"v":1.32},{"e":0.2,"p":6,"v":1.52},{"e":0.2,"p":6.5,"v":1.72},{"e":0.2,"p":7,"v":1.93},{"e":0.2,"p":7.5,"v":2.14},{"e":0.2,"p":8,"v":2.35},{"e":0.2,"p":8.5,"v":2.56},{"e":0.2,"p":9,"v":2.78},{"e":0.2,"p":9.5,"v":3.00},
{"e":0.25,"p":0,"v":-0.84},{"e":0.25,"p":0.5,"v":-0.67},{"e":0.25,"p":1,"v":-0.50},{"e":0.25,"p":1.5,"v":-0.33},{"e":0.25,"p":2,"v":-0.16},{"e":0.25,"p":2.5,"v":0.02},{"e":0.25,"p":3,"v":0.20},{"e":0.25,"p":3.5,"v":0.38},{"e":0.25,"p":4,"v":0.56},{"e":0.25,"p":4.5,"v":0.75},{"e":0.25,"p":5,"v":0.94},{"e":0.25,"p":5.5,"v":1.14},{"e":0.25,"p":6,"v":1.34},{"e":0.25,"p":6.5,"v":1.54},{"e":0.25,"p":7,"v":1.74},{"e":0.25,"p":7.5,"v":1.95},{"e":0.25,"p":8,"v":2.16},{"e":0.25,"p":8.5,"v":2.37},{"e":0.25,"p":9,"v":2.59},{"e":0.25,"p":9.5,"v":2.81},
{"e":0.3,"p":0,"v":-1.00},{"e":0.3,"p":0.5,"v":-0.84},{"e":0.3,"p":1,"v":-0.67},{"e":0.3,"p":1.5,"v":-0.50},{"e":0.3,"p":2,"v":-0.33},{"e":0.3,"p":2.5,"v":-0.16},{"e":0.3,"p":3,"v":0.02},{"e":0.3,"p":3.5,"v":0.20},{"e":0.3,"p":4,"v":0.39},{"e":0.3,"p":4.5,"v":0.57},{"e":0.3,"p":5,"v":0.76},{"e":0.3,"p":5.5,"v":0.96},{"e":0.3,"p":6,"v":1.15},{"e":0.3,"p":6.5,"v":1.35},{"e":0.3,"p":7,"v":1.55},{"e":0.3,"p":7.5,"v":1.76},{"e":0.3,"p":8,"v":1.97},{"e":0.3,"p":8.5,"v":2.18},{"e":0.3,"p":9,"v":2.39},{"e":0.3,"p":9.5,"v":2.61},
{"e":0.35,"p":0,"v":-1.17},{"e":0.35,"p":0.5,"v":-1.00},{"e":0.35,"p":1,"v":-0.84},{"e":0.35,"p":1.5,"v":-0.67},{"e":0.35,"p":2,"v":-0.50},{"e":0.35,"p":2.5,"v":-0.33},{"e":0.35,"p":3,"v":-0.15},{"e":0.35,"p":3.5,"v":0.03},{"e":0.35,"p":4,"v":0.21},{"e":0.35,"p":4.5,"v":0.40},{"e":0.35,"p":5,"v":0.59},{"e":0.35,"p":5.5,"v":0.78},{"e":0.35,"p":6,"v":0.97},{"e":0.35,"p":6.5,"v":1.17},{"e":0.35,"p":7,"v":1.37},{"e":0.35,"p":7.5,"v":1.57},{"e":0.35,"p":8,"v":1.78},{"e":0.35,"p":8.5,"v":1.99},{"e":0.35,"p":9,"v":2.20},{"e":0.35,"p":9.5,"v":2.42},
{"e":0.4,"p":0,"v":-1.33},{"e":0.4,"p":0.5,"v":-1.17},{"e":0.4,"p":1,"v":-1.00},{"e":0.4,"p":1.5,"v":-0.84},{"e":0.4,"p":2,"v":-0.67},{"e":0.4,"p":2.5,"v":-0.50},{"e":0.4,"p":3,"v":-0.32},{"e":0.4,"p":3.5,"v":-0.15},{"e":0.4,"p":4,"v":0.04},{"e":0.4,"p":4.5,"v":0.22},{"e":0.4,"p":5,"v":0.41},{"e":0.4,"p":5.5,"v":0.60},{"e":0.4,"p":6,"v":0.79},{"e":0.4,"p":6.5,"v":0.99},{"e":0.4,"p":7,"v":1.19},{"e":0.4,"p":7.5,"v":1.39},{"e":0.4,"p":8,"v":1.59},{"e":0.4,"p":8.5,"v":1.80},{"e":0.4,"p":9,"v":2.01},{"e":0.4,"p":9.5,"v":2.23},
{"e":0.45,"p":0,"v":-1.49},{"e":0.45,"p":0.5,"v":-1.33},{"e":0.45,"p":1,"v":-1.17},{"e":0.45,"p":1.5,"v":-1.00},{"e":0.45,"p":2,"v":-0.84},{"e":0.45,"p":2.5,"v":-0.67},{"e":0.45,"p":3,"v":-0.49},{"e":0.45,"p":3.5,"v":-0.32},{"e":0.45,"p":4,"v":-0.14},{"e":0.45,"p":4.5,"v":0.04},{"e":0.45,"p":5,"v":0.23},{"e":0.45,"p":5.5,"v":0.42},{"e":0.45,"p":6,"v":0.61},{"e":0.45,"p":6.5,"v":0.81},{"e":0.45,"p":7,"v":1.00},{"e":0.45,"p":7.5,"v":1.20},{"e":0.45,"p":8,"v":1.41},{"e":0.45,"p":8.5,"v":1.61},{"e":0.45,"p":9,"v":1.82},{"e":0.45,"p":9.5,"v":2.04},
{"e":0.5,"p":0,"v":-1.65},{"e":0.5,"p":0.5,"v":-1.49},{"e":0.5,"p":1,"v":-1.33},{"e":0.5,"p":1.5,"v":-1.17},{"e":0.5,"p":2,"v":-1.00},{"e":0.5,"p":2.5,"v":-0.83},{"e":0.5,"p":3,"v":-0.66},{"e":0.5,"p":3.5,"v":-0.49},{"e":0.5,"p":4,"v":-0.31},{"e":0.5,"p":4.5,"v":-0.13},{"e":0.5,"p":5,"v":0.06},{"e":0.5,"p":5.5,"v":0.24},{"e":0.5,"p":6,"v":0.43},{"e":0.5,"p":6.5,"v":0.63},{"e":0.5,"p":7,"v":0.82},{"e":0.5,"p":7.5,"v":1.02},{"e":0.5,"p":8,"v":1.22},{"e":0.5,"p":8.5,"v":1.43},{"e":0.5,"p":9,"v":1.64},{"e":0.5,"p":9.5,"v":1.85},
{"e":0.55,"p":0,"v":-1.81},{"e":0.55,"p":0.5,"v":-1.65},{"e":0.55,"p":1,"v":-1.49},{"e":0.55,"p":1.5,"v":-1.33},{"e":0.55,"p":2,"v":-1.17},{"e":0.55,"p":2.5,"v":-1.00},{"e":0.55,"p":3,"v":-0.83},{"e":0.55,"p":3.5,"v":-0.66},{"e":0.55,"p":4,"v":-0.48},{"e":0.55,"p":4.5,"v":-0.30},{"e":0.55,"p":5,"v":-0.12},{"e":0.55,"p":5.5,"v":0.07},{"e":0.55,"p":6,"v":0.26},{"e":0.55,"p":6.5,"v":0.45},{"e":0.55,"p":7,"v":0.64},{"e":0.55,"p":7.5,"v":0.84},{"e":0.55,"p":8,"v":1.04},{"e":0.55,"p":8.5,"v":1.24},{"e":0.55,"p":9,"v":1.45},{"e":0.55,"p":9.5,"v":1.66},
{"e":0.6,"p":0,"v":-1.96},{"e":0.6,"p":0.5,"v":-1.81},{"e":0.6,"p":1,"v":-1.65},{"e":0.6,"p":1.5,"v":-1.49},{"e":0.6,"p":2,"v":-1.33},{"e":0.6,"p":2.5,"v":-1.17},{"e":0.6,"p":3,"v":-1.00},{"e":0.6,"p":3.5,"v":-0.83},{"e":0.6,"p":4,"v":-0.65},{"e":0.6,"p":4.5,"v":-0.47},{"e":0.6,"p":5,"v":-0.29},{"e":0.6,"p":5.5,"v":-0.11},{"e":0.6,"p":6,"v":0.08},{"e":0.6,"p":6.5,"v":0.27},{"e":0.6,"p":7,"v":0.46},{"e":0.6,"p":7.5,"v":0.66},{"e":0.6,"p":8,"v":0.85},{"e":0.6,"p":8.5,"v":1.06},{"e":0.6,"p":9,"v":1.26},{"e":0.6,"p":9.5,"v":1.47},
{"e":0.65,"p":0,"v":-2.12},{"e":0.65,"p":0.5,"v":-1.97},{"e":0.65,"p":1,"v":-1.81},{"e":0.65,"p":1.5,"v":-1.66},{"e":0.65,"p":2,"v":-1.49},{"e":0.65,"p":2.5,"v":-1.33},{"e":0.65,"p":3,"v":-1.16},{"e":0.65,"p":3.5,"v":-0.99},{"e":0.65,"p":4,"v":-0.82},{"e":0.65,"p":4.5,"v":-0.64},{"e":0.65,"p":5,"v":-0.47},{"e":0.65,"p":5.5,"v":-0.28},{"e":0.65,"p":6,"v":-0.10},{"e":0.65,"p":6.5,"v":0.09},{"e":0.65,"p":7,"v":0.28},{"e":0.65,"p":7.5,"v":0.48},{"e":0.65,"p":8,"v":0.67},{"e":0.65,"p":8.5,"v":0.87},{"e":0.65,"p":9,"v":1.08},{"e":0.65,"p":9.5,"v":1.28},
{"e":0.7,"p":0,"v":-2.28},{"e":0.7,"p":0.5,"v":-2.12},{"e":0.7,"p":1,"v":-1.97},{"e":0.7,"p":1.5,"v":-1.82},{"e":0.7,"p":2,"v":-1.66},{"e":0.7,"p":2.5,"v":-1.49},{"e":0.7,"p":3,"v":-1.33},{"e":0.7,"p":3.5,"v":-1.16},{"e":0.7,"p":4,"v":-0.99},{"e":0.7,"p":4.5,"v":-0.81},{"e":0.7,"p":5,"v":-0.64},{"e":0.7,"p":5.5,"v":-0.46},{"e":0.7,"p":6,"v":-0.27},{"e":0.7,"p":6.5,"v":-0.09},{"e":0.7,"p":7,"v":0.10},{"e":0.7,"p":7.5,"v":0.30},{"e":0.7,"p":8,"v":0.49},{"e":0.7,"p":8.5,"v":0.69},{"e":0.7,"p":9,"v":0.89},{"e":0.7,"p":9.5,"v":1.10},
{"e":0.75,"p":0,"v":-2.43},{"e":0.75,"p":0.5,"v":-2.28},{"e":0.75,"p":1,"v":-2.13},{"e":0.75,"p":1.5,"v":-1.97},{"e":0.75,"p":2,"v":-1.82},{"e":0.75,"p":2.5,"v":-1.66},{"e":0.75,"p":3,"v":-1.49},{"e":0.75,"p":3.5,"v":-1.32},{"e":0.75,"p":4,"v":-1.15},{"e":0.75,"p":4.5,"v":-0.98},{"e":0.75,"p":5,"v":-0.81},{"e":0.75,"p":5.5,"v":-0.63},{"e":0.75,"p":6,"v":-0.44},{"e":0.75,"p":6.5,"v":-0.26},{"e":0.75,"p":7,"v":-0.07},{"e":0.75,"p":7.5,"v":0.12},{"e":0.75,"p":8,"v":0.31},{"e":0.75,"p":8.5,"v":0.51},{"e":0.75,"p":9,"v":0.71},{"e":0.75,"p":9.5,"v":0.91},
{"e":0.8,"p":0,"v":-2.58},{"e":0.8,"p":0.5,"v":-2.44},{"e":0.8,"p":1,"v":-2.29},{"e":0.8,"p":1.5,"v":-2.13},{"e":0.8,"p":2,"v":-1.98},{"e":0.8,"p":2.5,"v":-1.82},{"e":0.8,"p":3,"v":-1.65},{"e":0.8,"p":3.5,"v":-1.49},{"e":0.8,"p":4,"v":-1.32},{"e":0.8,"p":4.5,"v":-1.15},{"e":0.8,"p":5,"v":-0.98},{"e":0.8,"p":5.5,"v":-0.80},{"e":0.8,"p":6,"v":-0.62},{"e":0.8,"p":6.5,"v":-0.43},{"e":0.8,"p":7,"v":-0.25},{"e":0.8,"p":7.5,"v":-0.06},{"e":0.8,"p":8,"v":0.13},{"e":0.8,"p":8.5,"v":0.33},{"e":0.8,"p":9,"v":0.53},{"e":0.8,"p":9.5,"v":0.73},
{"e":0.85,"p":0,"v":-2.74},{"e":0.85,"p":0.5,"v":-2.59},{"e":0.85,"p":1,"v":-2.44},{"e":0.85,"p":1.5,"v":-2.29},{"e":0.85,"p":2,"v":-2.13},{"e":0.85,"p":2.5,"v":-1.98},{"e":0.85,"p":3,"v":-1.82},{"e":0.85,"p":3.5,"v":-1.65},{"e":0.85,"p":4,"v":-1.49},{"e":0.85,"p":4.5,"v":-1.32},{"e":0.85,"p":5,"v":-1.14},{"e":0.85,"p":5.5,"v":-0.97},{"e":0.85,"p":6,"v":-0.79},{"e":0.85,"p":6.5,"v":-0.61},{"e":0.85,"p":7,"v":-0.42},{"e":0.85,"p":7.5,"v":-0.23},{"e":0.85,"p":8,"v":-0.04},{"e":0.85,"p":8.5,"v":0.15},{"e":0.85,"p":9,"v":0.35},{"e":0.85,"p":9.5,"v":0.55},
{"e":0.9,"p":0,"v":-2.89},{"e":0.9,"p":0.5,"v":-2.74},{"e":0.9,"p":1,"v":-2.59},{"e":0.9,"p":1.5,"v":-2.44},{"e":0.9,"p":2,"v":-2.29},{"e":0.9,"p":2.5,"v":-2.14},{"e":0.9,"p":3,"v":-1.98},{"e":0.9,"p":3.5,"v":-1.81},{"e":0.9,"p":4,"v":-1.65},{"e":0.9,"p":4.5,"v":-1.48},{"e":0.9,"p":5,"v":-1.31},{"e":0.9,"p":5.5,"v":-1.14},{"e":0.9,"p":6,"v":-0.96},{"e":0.9,"p":6.5,"v":-0.78},{"e":0.9,"p":7,"v":-0.60},{"e":0.9,"p":7.5,"v":-0.41},{"e":0.9,"p":8,"v":-0.22},{"e":0.9,"p":8.5,"v":-0.03},{"e":0.9,"p":9,"v":0.17},{"e":0.9,"p":9.5,"v":0.37},
{"e":0.95,"p":0,"v":-3.04},{"e":0.95,"p":0.5,"v":-2.89},{"e":0.95,"p":1,"v":-2.75},{"e":0.95,"p":1.5,"v":-2.60},{"e":0.95,"p":2,"v":-2.45},{"e":0.95,"p":2.5,"v":-2.29},{"e":0.95,"p":3,"v":-2.13},{"e":0.95,"p":3.5,"v":-1.97},{"e":0.95,"p":4,"v":-1.81},{"e":0.95,"p":4.5,"v":-1.64},{"e":0.95,"p":5,"v":-1.47},{"e":0.95,"p":5.5,"v":-1.30},{"e":0.95,"p":6,"v":-1.13},{"e":0.95,"p":6.5,"v":-0.95},{"e":0.95,"p":7,"v":-0.77},{"e":0.95,"p":7.5,"v":-0.58},{"e":0.95,"p":8,"v":-0.39},{"e":0.95,"p":8.5,"v":-0.20},{"e":0.95,"p":9,"v":-0.01},{"e":0.95,"p":9.5,"v":0.19}
],
"ca": [
{"l":"8","x":0,"y":9.189},{"l":"8","x":0.1,"y":9.813},{"l":"8","x":0.131,"y":10},
{"l":"6","x":0,"y":7.24},{"l":"6","x":0.1,"y":7.88},{"l":"6","x":0.2,"y":8.493},{"l":"6","x":0.3,"y":9.082},{"l":"6","x":0.4,"y":9.644},{"l":"6","x":0.467,"y":10},
{"l":"4","x":0,"y":5.105},{"l":"4","x":0.1,"y":5.771},{"l":"4","x":0.2,"y":6.406},{"l":"4","x":0.3,"y":7.01},{"l":"4","x":0.4,"y":7.587},{"l":"4","x":0.5,"y":8.135},{"l":"4","x":0.6,"y":8.655},{"l":"4","x":0.7,"y":9.147},{"l":"4","x":0.8,"y":9.616},{"l":"4","x":0.887,"y":10},
{"l":"2","x":0,"y":2.73},{"l":"2","x":0.1,"y":3.428},{"l":"2","x":0.2,"y":4.091},{"l":"2","x":0.3,"y":4.719},{"l":"2","x":0.4,"y":5.316},{"l":"2","x":0.5,"y":5.881},{"l":"2","x":0.6,"y":6.413},{"l":"2","x":0.7,"y":6.917},{"l":"2","x":0.8,"y":7.39},{"l":"2","x":0.9,"y":7.835},{"l":"2","x":1,"y":8.25},
{"l":"0","x":0,"y":0},{"l":"0","x":0.1,"y":0.747},{"l":"0","x":0.2,"y":1.45},{"l":"0","x":0.3,"y":2.116},{"l":"0","x":0.4,"y":2.744},{"l":"0","x":0.5,"y":3.332},{"l":"0","x":0.6,"y":3.882},{"l":"0","x":0.7,"y":4.4},{"l":"0","x":0.8,"y":4.883},{"l":"0","x":0.9,"y":5.333},{"l":"0","x":1,"y":5.75},
{"l":"-2","x":0.448,"y":0},{"l":"-2","x":0.5,"y":0.328},{"l":"-2","x":0.6,"y":0.909},{"l":"-2","x":0.7,"y":1.45},{"l":"-2","x":0.8,"y":1.952},{"l":"-2","x":0.9,"y":2.409},{"l":"-2","x":1,"y":2.828}
],
"cbl": [
{"l":"3","x":0,"y":7.75},{"l":"3","x":0.2,"y":9.53},{"l":"3","x":0.254,"y":10},
{"l":"2","x":0,"y":5.37},{"l":"2","x":0.3,"y":8.1},{"l":"2","x":0.512,"y":10},
{"l":"1","x":0,"y":2.8},{"l":"1","x":0.4,"y":6.56},{"l":"1","x":0.78,"y":10},
{"l":"0","x":0,"y":0},{"l":"0","x":0.5,"y":4.86},{"l":"0","x":1,"y":9.5},
{"l":"-1","x":0.3,"y":0},{"l":"-1","x":0.6,"y":3.0},{"l":"-1","x":1,"y":6.84},
{"l":"-2","x":0.613,"y":0},{"l":"-2","x":0.8,"y":1.92},{"l":"-2","x":1,"y":3.92},
{"l":"-3","x":0.94,"y":0},{"l":"-3","x":1,"y":0.64}
]
},
"hconcat": [
{
 "width": 437, "height": 427,
 "title": {"text": "(a)", "orient": "bottom", "frame": "group", "anchor": "middle", "font": "Liberation Serif", "fontSize": 28, "fontWeight": "normal", "color": "#000000", "offset": 31, "dx": -3},
 "layer": [
  {"data": {"name": "a"}, "mark": {"type": "rect", "strokeWidth": 0.7},
   "encoding": {
    "x": {"field": "e", "type": "quantitative", "bin": {"binned": true, "step": 0.05}, "scale": {"domain": [0, 1], "nice": false, "zero": false}, "axis": {"values": [0, 0.2, 0.4, 0.6, 0.8, 1], "format": "~g", "title": "Heat Exchanger Effectiveness, ε", "labelPadding": 8, "titlePadding": 6, "grid": true}},
    "y": {"field": "p", "type": "quantitative", "bin": {"binned": true, "step": 0.25}, "scale": {"domain": [0, 10], "nice": false, "zero": false}, "axis": {"values": [0, 1, 2, 3, 4, 5, 6, 7, 8, 9, 10], "format": "d", "title": "Heat Exchanger Pressure Drop [%]", "labelPadding": 5, "titlePadding": 4, "grid": true}},
    "color": {"field": "v", "type": "quantitative", "legend": null, "scale": {"type": "linear", "domain": [-4, -3, -2, -1, 0, 1.4, 2.8, 4.2, 6.2, 9.05], "range": ["#2166ac", "#4393c3", "#92c5de", "#d1e5f0", "#f7f7f7", "#fddbc7", "#f4a582", "#d6604d", "#b2182b", "#67001f"], "interpolate": "rgb", "clamp": true}},
    "stroke": {"field": "v", "type": "quantitative", "legend": null, "scale": {"type": "linear", "domain": [-4, -3, -2, -1, 0, 1.4, 2.8, 4.2, 6.2, 9.05], "range": ["#2166ac", "#4393c3", "#92c5de", "#d1e5f0", "#f7f7f7", "#fddbc7", "#f4a582", "#d6604d", "#b2182b", "#67001f"], "interpolate": "rgb", "clamp": true}}
   }},
  {"data": {"name": "ca"}, "mark": {"type": "line", "color": "#111111", "strokeWidth": 1.4, "clip": true},
   "encoding": {"x": {"field": "x", "type": "quantitative"}, "y": {"field": "y", "type": "quantitative"}, "detail": {"field": "l", "type": "nominal"}}},
  {"data": {"values": [{"x0": 0, "x1": 1, "y0": 0, "y1": 10}]}, "mark": {"type": "rect", "filled": false, "stroke": "#303030", "strokeWidth": 1},
   "encoding": {"x": {"field": "x0", "type": "quantitative"}, "x2": {"field": "x1"}, "y": {"field": "y0", "type": "quantitative"}, "y2": {"field": "y1"}}}
 ]
},
{
 "width": 30, "height": 429,
 "data": {"values": [{"lo": -4, "hi": 9.05}]},
 "mark": {"type": "rect", "stroke": "#303030", "strokeWidth": 1,
   "fill": {"gradient": "linear", "x1": 0, "y1": 1, "x2": 0, "y2": 0, "stops": [
     {"offset": 0, "color": "#2166ac"}, {"offset": 0.0766, "color": "#4393c3"}, {"offset": 0.1533, "color": "#92c5de"}, {"offset": 0.2299, "color": "#d1e5f0"}, {"offset": 0.3065, "color": "#f7f7f7"}, {"offset": 0.4138, "color": "#fddbc7"}, {"offset": 0.5211, "color": "#f4a582"}, {"offset": 0.6284, "color": "#d6604d"}, {"offset": 0.7816, "color": "#b2182b"}, {"offset": 1, "color": "#67001f"}]}},
 "encoding": {
   "x": {"value": 0}, "x2": {"value": "width"},
   "y": {"field": "lo", "type": "quantitative", "scale": {"domain": [-4, 9.05], "nice": false, "zero": false}, "axis": {"orient": "right", "values": [-4, -2, 0, 2, 4, 6, 8], "labelExpr": "'' + datum.value", "grid": false, "title": "Thrust-Specific Fuel Consumption Enhancement [%]", "titleFontSize": 14, "titleAngle": 270, "titleBaseline": "top", "labelPadding": 8, "titlePadding": 6}},
   "y2": {"field": "hi"}
 }
},
{
 "width": 96, "height": 429,
 "data": {"values": [{"s": 0}]},
 "mark": {"type": "point", "opacity": 0},
 "encoding": {}
},
{
 "width": 432, "height": 429,
 "title": {"text": "(b)", "orient": "bottom", "frame": "group", "anchor": "middle", "font": "Liberation Serif", "fontSize": 28, "fontWeight": "normal", "color": "#000000", "offset": 31, "dx": -16},
 "layer": [
  {"data": {"name": "b"}, "mark": {"type": "rect", "strokeWidth": 0.7},
   "encoding": {
    "x": {"field": "e", "type": "quantitative", "bin": {"binned": true, "step": 0.05}, "scale": {"domain": [0, 1], "nice": false, "zero": false}, "axis": {"values": [0, 0.2, 0.4, 0.6, 0.8, 1], "format": "~g", "title": "Heat Exchanger Effectiveness, ε", "labelPadding": 9, "titlePadding": 4, "grid": false}},
    "y": {"field": "p", "type": "quantitative", "bin": {"binned": true, "step": 0.5}, "scale": {"domain": [0, 10.214], "nice": false, "zero": false}, "axis": {"values": [0, 1, 2, 3, 4, 5, 6, 7, 8, 9, 10], "format": "d", "title": "Heat Exchanger Pressure Drop [%]", "labelPadding": 5, "titlePadding": 4, "grid": true}},
    "color": {"field": "v", "type": "quantitative", "legend": null, "scale": {"type": "linear", "domain": [-4, -3, -2, -1, 0, 1.4, 2.8, 4.2, 6.2, 9.05], "range": ["#2166ac", "#4393c3", "#92c5de", "#d1e5f0", "#f7f7f7", "#fddbc7", "#f4a582", "#d6604d", "#b2182b", "#67001f"], "interpolate": "rgb", "clamp": true}},
    "stroke": {"field": "v", "type": "quantitative", "legend": null, "scale": {"type": "linear", "domain": [-4, -3, -2, -1, 0, 1.4, 2.8, 4.2, 6.2, 9.05], "range": ["#2166ac", "#4393c3", "#92c5de", "#d1e5f0", "#f7f7f7", "#fddbc7", "#f4a582", "#d6604d", "#b2182b", "#67001f"], "interpolate": "rgb", "clamp": true}}
   }},
  {"data": {"values": [{"g": 0.2}, {"g": 0.4}, {"g": 0.6}, {"g": 0.8}]}, "mark": {"type": "rule", "color": "#262626", "opacity": 0.15, "strokeWidth": 1},
   "encoding": {"x": {"field": "g", "type": "quantitative"}, "y": {"datum": 0}, "y2": {"datum": 10}}},
  {"data": {"name": "cbl"}, "mark": {"type": "line", "color": "#111111", "strokeWidth": 1.4, "clip": true},
   "encoding": {"x": {"field": "x", "type": "quantitative"}, "y": {"field": "y", "type": "quantitative"}, "detail": {"field": "l", "type": "nominal"}}},
  {"data": {"values": [{"x0": 0, "x1": 1, "y0": 0, "y1": 10}]}, "mark": {"type": "rect", "filled": false, "stroke": "#303030", "strokeWidth": 1},
   "encoding": {"x": {"field": "x0", "type": "quantitative"}, "x2": {"field": "x1"}, "y": {"field": "y0", "type": "quantitative"}, "y2": {"field": "y1"}}}
 ]
},
{
 "width": 30, "height": 429,
 "data": {"values": [{"lo": -3.35, "hi": 4.0}]},
 "mark": {"type": "rect", "stroke": "#303030", "strokeWidth": 1,
   "fill": {"gradient": "linear", "x1": 0, "y1": 1, "x2": 0, "y2": 0, "stops": [
     {"offset": 0, "color": "#3783bb"}, {"offset": 0.0476, "color": "#4393c3"}, {"offset": 0.1837, "color": "#92c5de"}, {"offset": 0.3197, "color": "#d1e5f0"}, {"offset": 0.4558, "color": "#f7f7f7"}, {"offset": 0.6463, "color": "#fddbc7"}, {"offset": 0.8367, "color": "#f4a582"}, {"offset": 1, "color": "#da6a55"}]}},
 "encoding": {
   "x": {"value": 0}, "x2": {"value": "width"},
   "y": {"field": "lo", "type": "quantitative", "scale": {"domain": [-3.35, 4.157], "nice": false, "zero": false}, "axis": {"orient": "right", "values": [-3, -2, -1, 0, 1, 2, 3, 4], "labelExpr": "'' + datum.value", "grid": false, "title": "Thrust-Specific Fuel Consumption Enhancement [%]", "titleFontSize": 14, "titleAngle": 270, "titleBaseline": "top", "labelPadding": 6, "titlePadding": 6}},
   "y2": {"field": "hi"}
 }
}
]
}
